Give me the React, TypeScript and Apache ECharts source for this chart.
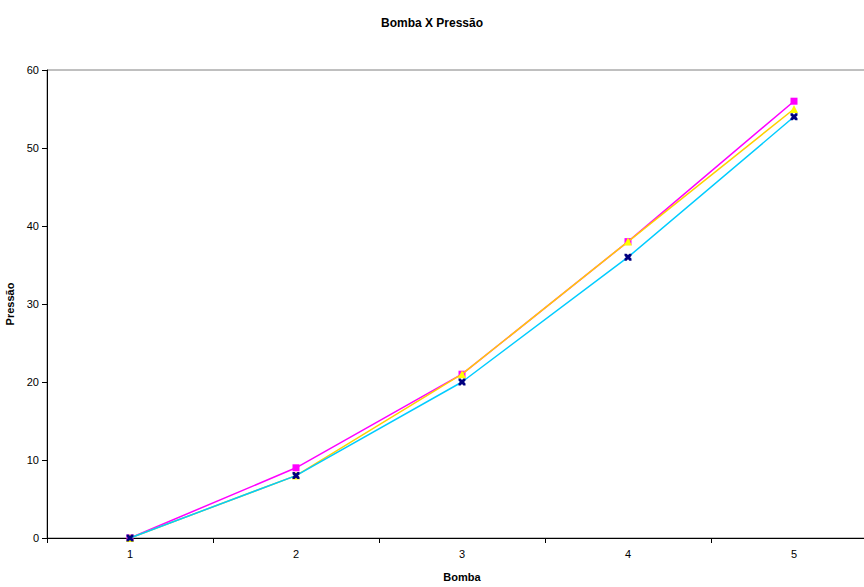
import React, { useEffect, useRef } from "react";
import * as echarts from "echarts";

const categories = ["1", "2", "3", "4", "5"];
const seriesMagenta = [0, 9, 21, 38, 56];
const seriesYellow = [0, 8, 21, 38, 55];
const seriesCyan = [0, 8, 20, 36, 54];
const yTicks = { min: 0, max: 60, interval: 10 };

const FONT = "Liberation Sans, Arial, sans-serif";
const X_SYMBOL =
  "path://M0,0 L3,0 L5,2 L7,0 L10,0 L10,3 L8,5 L10,7 L10,10 L7,10 L5,8 L3,10 L0,10 L0,7 L2,5 L0,3 Z";

export default function App() {
  const ref = useRef<HTMLDivElement>(null);
  useEffect(() => {
    const chart = echarts.init(ref.current!, null, { renderer: "svg" });
    chart.setOption({
      animation: false,
      backgroundColor: "#ffffff",
      title: {
        text: "Bomba X Pressão",
        left: "center",
        top: 12,
        textStyle: { fontFamily: FONT, fontSize: 12, fontWeight: "bold", color: "#000" },
      },
      grid: {
        left: 47,
        right: -13,
        top: 70,
        bottom: 49,
        containLabel: false,
        outerBoundsMode: "none",
        show: true,
        borderColor: "#808080",
        borderWidth: 1,
        backgroundColor: "transparent",
      },
      xAxis: {
        type: "category",
        data: categories,
        boundaryGap: true,
        name: "Bomba",
        nameLocation: "middle",
        nameGap: 33,
        nameTextStyle: { fontFamily: FONT, fontSize: 11, fontWeight: "bold", color: "#000" },
        axisLine: { lineStyle: { color: "#000", width: 1 } },
        axisTick: { show: true, alignWithLabel: false, length: 5, lineStyle: { color: "#000" } },
        axisLabel: { fontFamily: FONT, fontSize: 11, color: "#000", margin: 10 },
        splitLine: { show: false },
      },
      yAxis: {
        type: "value",
        min: yTicks.min,
        max: yTicks.max,
        interval: yTicks.interval,
        name: "Pressão",
        nameLocation: "middle",
        nameGap: 32,
        nameTextStyle: { fontFamily: FONT, fontSize: 11, fontWeight: "bold", color: "#000" },
        axisLine: { show: true, lineStyle: { color: "#000", width: 1 } },
        axisTick: { show: true, length: 5, lineStyle: { color: "#000" } },
        axisLabel: { fontFamily: FONT, fontSize: 11, color: "#000", margin: 8 },
        splitLine: { show: false },
      },
      series: [
        {
          type: "line",
          data: seriesMagenta,
          symbol: "rect",
          symbolSize: 7,
          showAllSymbol: true,
          lineStyle: { color: "#FF00FF", width: 1.5 },
          itemStyle: { color: "#FF00FF" },
          z: 2,
        },
        {
          type: "line",
          data: seriesYellow,
          symbol: "triangle",
          symbolSize: 8,
          showAllSymbol: true,
          lineStyle: { color: "#FFD000", width: 1.5 },
          itemStyle: { color: "#FFFF00" },
          z: 3,
        },
        {
          type: "line",
          data: seriesCyan,
          symbol: X_SYMBOL,
          symbolSize: 7,
          showAllSymbol: true,
          lineStyle: { color: "#00CCFF", width: 1.5 },
          itemStyle: { color: "#000080" },
          z: 4,
        },
      ],
    });
    return () => chart.dispose();
  }, []);
  return (
    <div
      ref={ref}
      style={{ position: "absolute", left: 0, top: 0, width: 864, height: 587 }}
    />
  );
}
